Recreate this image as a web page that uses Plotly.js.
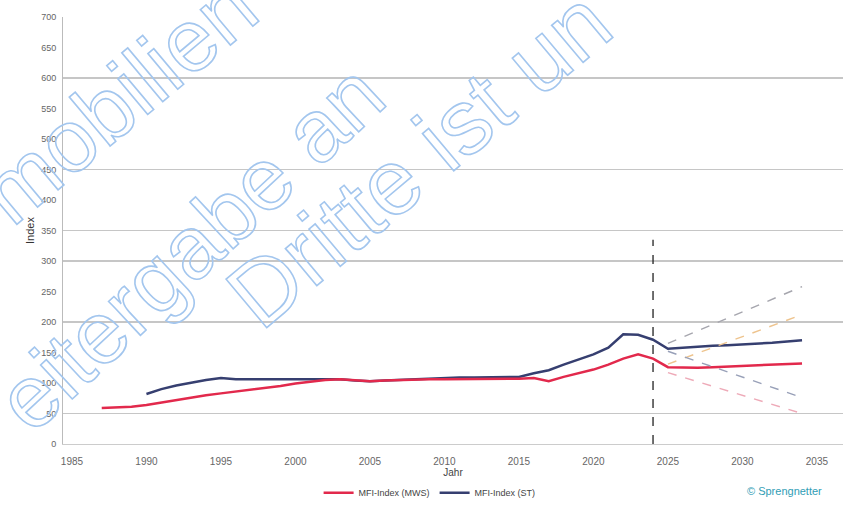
<!DOCTYPE html>
<html>
<head>
<meta charset="utf-8">
<script src="https://cdn.plot.ly/plotly-3.0.1.min.js"></script>
<style>
  html, body { margin: 0; padding: 0; background: #ffffff; }
  #chart { width: 844px; height: 508px; }
</style>
</head>
<body>
<div id="chart"></div>
<script>
// ---- data ----
const yearsMWS = [1987,1988,1989,1990,1991,1992,1993,1994,1995,1996,1997,1998,1999,2000,2001,2002,2003,2004,2005,2006,2007,2008,2009,2010,2011,2012,2013,2014,2015,2016,2017,2018,2019,2020,2021,2022,2023,2024,2025,2026,2027,2028,2029,2030,2031,2032,2033,2034];
const indexMWS = [59,60,61,64,68,73,77,80,83,86,89,91,95,99,102,105,106,104,103,104,105,106,106,106,106,106,106,106,107,108,103,110,116,122,130,140,147,140,126,125,125,126,127,128,129,130,131,132];

const yearsST = [1990,1991,1992,1993,1994,1995,1996,1997,1998,1999,2000,2001,2002,2003,2004,2005,2006,2007,2008,2009,2010,2011,2012,2013,2014,2015,2016,2017,2018,2019,2020,2021,2022,2023,2024,2025,2026,2027,2028,2029,2030,2031,2032,2033,2034];
const indexST = [82,90,96,101,105,108,106,106,106,106,106,106,107,106,104,103,104,105,107,108,109,109,109,109,109,110,116,121,130,139,147,158,180,179,171,156,158,160,161,162,163,165,166,168,170];

const corridorYears = [2025, 2034];
const stUpper  = [165, 258];
const stLower  = [152, 76];
const mwsUpper = [131, 212];
const mwsLower = [117, 50];

const forecastYear = [2024, 2024];
const forecastLine = [0, 335];

const xTicks = [1985,1990,1995,2000,2005,2010,2015,2020,2025,2030,2035];
const yTicks = [0,50,100,150,200,250,300,350,400,450,500,550,600,650,700];
const gridValues = [50,200,300,350,450,600];

const seriesNames = ['MFI-Index (MWS)', 'MFI-Index (ST)'];
const watermarkTexts = ['mobilien', 'eitergabe an', 'Dritte ist un'];

// ---- chart ----
const RED = '#e2294c';
const BLUE = '#363f70';

const traces = [
  { x: yearsST, y: indexST, type: 'scatter', mode: 'lines', name: seriesNames[1],
    legendrank: 2, line: { color: BLUE, width: 2.5 } },
  { x: yearsMWS, y: indexMWS, type: 'scatter', mode: 'lines', name: seriesNames[0],
    legendrank: 1, line: { color: RED, width: 2.5 } },
  { x: corridorYears, y: stUpper, type: 'scatter', mode: 'lines', showlegend: false,
    line: { color: '#a6a6ae', width: 1.4, dash: 'dash' } },
  { x: corridorYears, y: mwsUpper, type: 'scatter', mode: 'lines', showlegend: false,
    line: { color: '#eec48e', width: 1.4, dash: 'dash' } },
  { x: corridorYears, y: stLower, type: 'scatter', mode: 'lines', showlegend: false,
    line: { color: '#98a0b8', width: 1.4, dash: 'dash' } },
  { x: corridorYears, y: mwsLower, type: 'scatter', mode: 'lines', showlegend: false,
    line: { color: '#eeaab8', width: 1.4, dash: 'dash' } },
  { x: forecastYear, y: forecastLine, type: 'scatter', mode: 'lines', showlegend: false,
    yaxis: 'y2', line: { color: '#222222', width: 1.3, dash: 'dash' } }
];

const wmColor = '#a3c6ee';
const wmFont = { family: 'Liberation Sans, Arial, sans-serif', size: 88, color: 'rgba(255,255,255,0)' };

const layout = {
  width: 844, height: 508,
  margin: { l: 63, r: 1, t: 17, b: 60 },
  paper_bgcolor: '#ffffff', plot_bgcolor: '#ffffff',
  font: { family: 'Liberation Sans, Arial, sans-serif', color: '#555555' },
  showlegend: true,
  legend: { orientation: 'h', x: 0.47, xanchor: 'center', y: -0.114, yanchor: 'middle',
            font: { size: 9, color: '#444444' }, bgcolor: 'rgba(0,0,0,0)' },
  xaxis: {
    range: [1984.4, 2036.75], tickvals: xTicks, ticktext: xTicks.map(String),
    showgrid: false, zeroline: false, showline: true, linecolor: '#cccccc', linewidth: 1,
    ticks: '', ticklabelstandoff: 8, tickfont: { size: 10, color: '#666666' },
    title: { text: 'Jahr', font: { size: 10, color: '#444444' }, standoff: 0 }
  },
  yaxis: {
    range: [0, 700], tickvals: yTicks, ticktext: yTicks.map(String),
    showgrid: false, zeroline: false, showline: true, linecolor: '#bbbbbb', linewidth: 1,
    ticks: '', ticklabelstandoff: 4, tickfont: { size: 9, color: '#666666' },
    title: { text: 'Index', font: { size: 11, color: '#333333' }, standoff: 4 }
  },
  yaxis2: {
    range: [0, 700], overlaying: 'y', side: 'left', tickvals: gridValues,
    showticklabels: false, showgrid: true, gridcolor: '#c6c6c6', gridwidth: 1.3,
    zeroline: false, showline: false, ticks: ''
  },
  annotations: [
    { text: '© Sprengnetter', xref: 'paper', yref: 'paper', x: 0.874, y: -0.109,
      xanchor: 'left', yanchor: 'middle', showarrow: false,
      font: { size: 11, color: '#2f9db5' } },
    { text: watermarkTexts[0], xref: 'paper', yref: 'paper',
      x: (118 - 63) / 780, y: (448 - 100) / 431, xanchor: 'center', yanchor: 'middle',
      textangle: -40, showarrow: false, font: wmFont },
    { text: watermarkTexts[1], xref: 'paper', yref: 'paper',
      x: (190 - 63) / 780, y: (448 - 250) / 431, xanchor: 'center', yanchor: 'middle',
      textangle: -43, showarrow: false, font: wmFont },
    { text: watermarkTexts[2], xref: 'paper', yref: 'paper',
      x: (418 - 63) / 780, y: (448 - 160) / 431, xanchor: 'center', yanchor: 'middle',
      textangle: -40, showarrow: false, font: Object.assign({}, wmFont, { size: 92 }) }
  ]
};

Plotly.newPlot('chart', traces, layout, { displayModeBar: false, staticPlot: true }).then(function (gd) {
  // outline-only watermark text (as in the reference)
  [1, 2, 3].forEach(function (i) {
    gd.querySelectorAll('g.annotation[data-index="' + i + '"] text').forEach(function (t) {
      t.style.fill = 'none';
      t.style.stroke = wmColor;
      t.style.strokeWidth = '1.6px';
    });
  });
});
</script>
</body>
</html>
